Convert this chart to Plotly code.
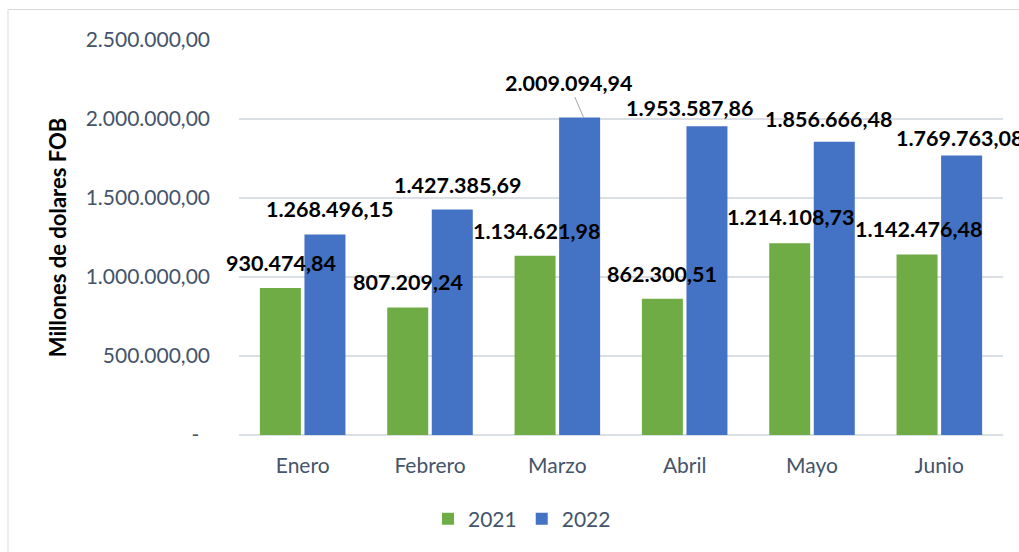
import plotly.graph_objects as go

# Monthly FOB values (millions of dollars), first semester
months = ["Enero", "Febrero", "Marzo", "Abril", "Mayo", "Junio"]
values_2021 = [930474.84, 807209.24, 1134621.98, 862300.51, 1214108.73, 1142476.48]
values_2022 = [1268496.15, 1427385.69, 2009094.94, 1953587.86, 1856666.48, 1769763.08]
series_names = ["2021", "2022"]
y_ticks = [0, 500000, 1000000, 1500000, 2000000, 2500000]

# Label nudges in pixels (dx, dy) relative to the top centre of each bar
nudge_2021 = [(1, 25), (0, 25), (1, 25), (0, 25), (1, 26), (1, 25)]
nudge_2022 = [(5, 26), (5, 24), (-11, 35), (-17, 18), (-6, 23), (-2, 17)]

GREEN = "#6FAC46"
BLUE = "#4472C4"
TEXT = "#44546A"
GRID = "#DADFE6"
FONT = "Lato, 'Open Sans', sans-serif"

W, H = 1019, 552
ML, MR, MT, MB = 239, 16, 40, 117
plot_w = W - ML - MR
slot = plot_w / len(months)
bar_offset = slot * 0.70 / 4  # centre of each bar within its month group


def es_number(v):
    s = f"{v:,.2f}"
    return s.replace(",", "_").replace(".", ",").replace("_", ".")


fig = go.Figure()
for name, vals, col in zip(series_names, [values_2021, values_2022], [GREEN, BLUE]):
    fig.add_trace(go.Bar(
        x=months, y=vals, name=name,
        marker=dict(color=col, line=dict(width=0)),
        hoverinfo="skip",
    ))

annotations = []
for sign, vals, nudges in [(-1, values_2021, nudge_2021), (1, values_2022, nudge_2022)]:
    for m, v, (dx, dy) in zip(months, vals, nudges):
        label = es_number(v)
        bx = sign * bar_offset
        if dy >= 30:
            # lifted label joined to its bar by a leader line
            annotations.append(dict(
                x=m, y=v, xref="x", yref="y", text=f"<b>{label}</b>",
                xshift=bx + 4, showarrow=True, arrowhead=0, arrowwidth=1,
                arrowcolor="#A6A6A6", ax=dx - 4, ay=-dy, standoff=0,
                font=dict(family=FONT, size=21.5, color="#000000"),
            ))
        else:
            annotations.append(dict(
                x=m, y=v, xref="x", yref="y", text=f"<b>{label}</b>",
                xshift=bx + dx, yshift=dy, showarrow=False,
                xanchor="center", yanchor="middle",
                font=dict(family=FONT, size=21.5, color="#000000"),
            ))

# Outer chart frame
left_px, top_px, right_px, bottom_px = 8, 9.5, 1045, 570
frame = dict(
    type="rect", xref="paper", yref="paper",
    x0=(left_px - ML) / plot_w, x1=(right_px - ML) / plot_w,
    y0=(H - MB - bottom_px) / (H - MT - MB), y1=(H - MB - top_px) / (H - MT - MB),
    line=dict(color="#D9D9D9", width=1), fillcolor="rgba(0,0,0,0)", layer="below",
)

fig.update_layout(
    width=W, height=H,
    margin=dict(l=ML, r=MR, t=MT, b=MB, pad=0, autoexpand=False),
    paper_bgcolor="white", plot_bgcolor="white",
    barmode="group", bargap=0.30, bargroupgap=0.08,
    font=dict(family=FONT, color=TEXT),
    showlegend=True,
    legend=dict(
        orientation="h", x=(522 - ML) / plot_w, xanchor="center",
        y=(H - MB - 519) / (H - MT - MB), yanchor="middle",
        font=dict(family=FONT, size=21, color=TEXT),
        itemwidth=30, tracegroupgap=0,
    ),
    annotations=annotations,
    shapes=[frame],
    xaxis=dict(
        automargin=False, range=[-0.5, len(months) - 0.5],
        showgrid=False, showline=False, zeroline=False, ticks="",
        tickfont=dict(family=FONT, size=21, color=TEXT),
        ticklabelstandoff=16,
    ),
    yaxis=dict(
        automargin=False,
        range=[0, 2500000], tickvals=y_ticks,
        ticktext=["-\u00a0\u00a0"] + [es_number(t) for t in y_ticks[1:]],
        showgrid=True, gridcolor=GRID, gridwidth=1.5,
        zeroline=True, zerolinecolor=GRID, zerolinewidth=1.5,
        showline=False, ticks="",
        tickfont=dict(family=FONT, size=21, color=TEXT),
        ticklabelstandoff=28,
        title=dict(
            text="<b>Millones de dolares FOB</b>",
            font=dict(family=FONT, size=22, color="#000000"),
            standoff=12,
        ),
    ),
)

fig.write_html("out.html")
